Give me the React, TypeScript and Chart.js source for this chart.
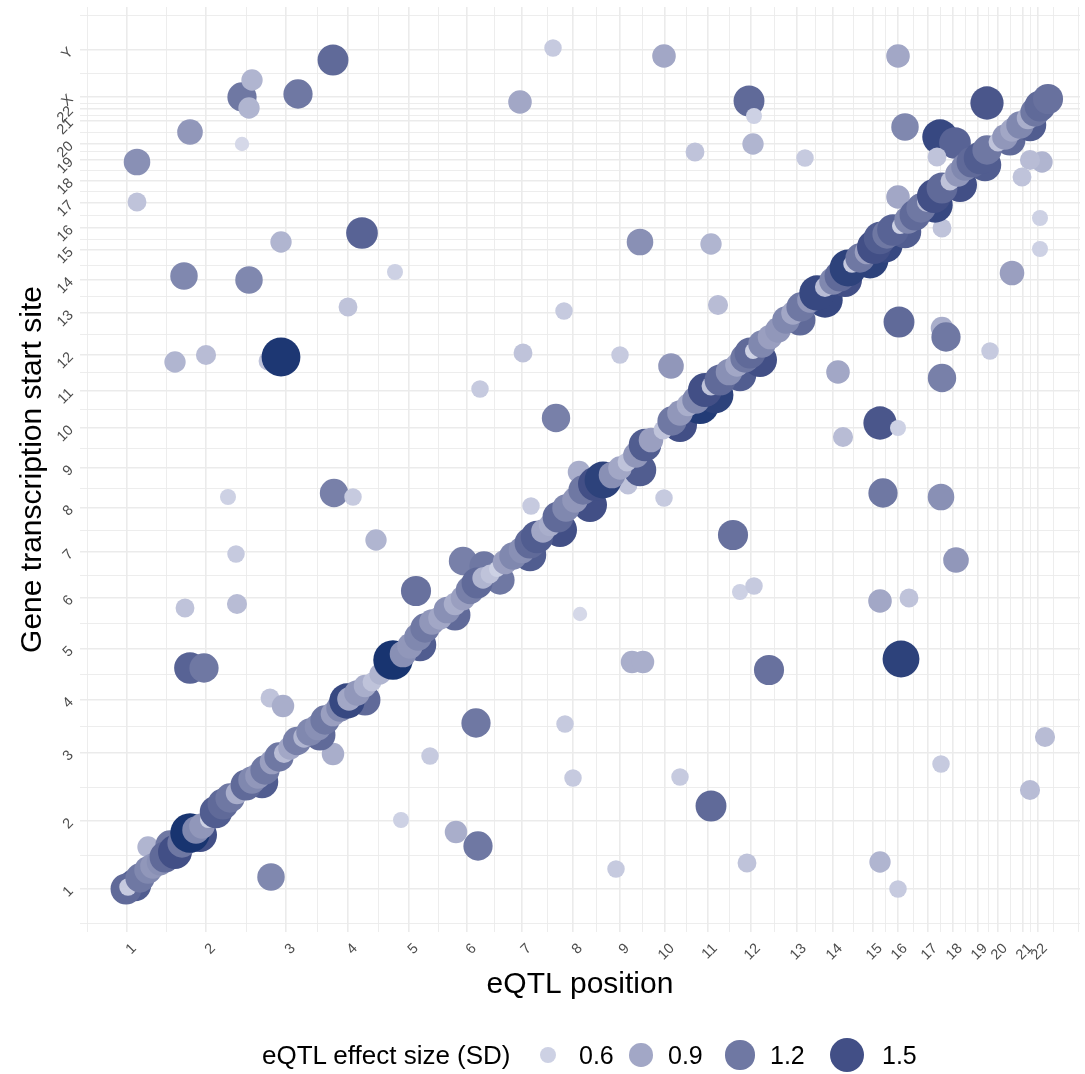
import React, { useEffect, useRef } from "react";
import { Chart, registerables } from "chart.js";

Chart.register(...registerables);

const FONT = "'Liberation Sans', Arial, Helvetica, sans-serif";

// Chromosome tick positions along the concatenated genome axes (plot units)
const chromLabelsX = ["1","2","3","4","5","6","7","8","9","10","11","12","13","14","15","16","17","18","19","20","21","22"];
const chromTicksX = [47,126,206,268,329,387,442,493,540,585,628,671,717,753,793,818,848,873,898,918,943,958];
const chromLabelsY = ["1","2","3","4","5","6","7","8","9","10","11","12","13","14","15","16","17","18","19","20","21","22","X","Y"];
const chromTicksY = [43,111,179,232,283,334,380,424,464,504,541,577,619,652,682,704,729,751,772,788,811,823,835,882];

// cis eQTLs (diagonal band)
const cisPos = [55,90,120,182,240,285,340,375,420,450,480,510,560,600,620,635,660,680,720,745,765,790,805,825,855,880,905,930,950,
  46,48,60,68,73,80,85,95,102,110,116,122,128,136,143,150,157,166,172,178,185,192,199,204,210,217,224,230,238,245,253,260,267,269,277,285,292,300,309,313,323,330,338,345,352,360,367,375,383,390,397,403,410,417,425,433,442,450,457,463,470,478,486,495,503,515,523,532,540,547,556,565,571,583,592,600,608,616,625,631,640,649,657,665,670,673,682,690,698,706,713,721,730,737,745,753,760,768,772,780,787,794,800,807,813,820,828,835,841,847,854,862,870,878,885,892,900,907,918,925,932,940,948,955,960,968];
const cisTss = [47,87,97,150,197,232,287,317,352,377,402,427,462,507,527,537,557,572,612,632,652,672,687,700,727,747,767,792,807,
  43,45,54,62,66,70,75,80,89,99,102,106,112,120,128,134,139,147,152,156,162,170,175,179,184,191,195,200,205,212,218,224,231,233,239,246,250,258,268,272,278,286,295,304,310,314,322,328,334,342,349,354,358,363,370,376,382,389,395,401,407,415,424,432,442,448,452,457,464,470,477,487,492,502,511,519,527,532,542,546,552,560,567,574,579,581,588,595,602,612,619,625,632,639,645,651,656,664,668,674,680,685,694,698,702,706,712,717,724,730,736,744,751,758,765,770,774,782,790,795,802,807,814,820,826,833];
const cisEffect = [1.4,1.2,1.5,1.4,1.3,1.3,1.4,1.3,1.2,1.4,1.5,1.5,1.4,1.5,1.8,1.7,1.4,1.5,1.3,1.6,1.5,1.7,1.6,1.4,1.6,1.5,1.4,1.3,1.4,
  1.3,0.65,1.2,1.1,1.0,1.05,1.3,1.5,1.2,1.9,1.1,1.0,0.6,1.4,1.3,1.2,0.85,1.3,1.1,1.0,1.2,0.95,1.2,0.75,0.9,1.15,0.8,1.1,1.05,1.2,0.95,1.1,1.6,0.9,1.0,0.85,0.7,0.8,1.2,1.9,1.05,1.0,1.1,1.2,1.0,0.9,1.05,0.85,0.95,1.15,1.3,0.8,0.7,0.6,0.95,1.1,1.05,1.3,1.4,0.9,0.85,1.3,1.1,1.0,1.2,1.5,1.7,1.05,0.9,0.7,1.0,1.4,0.95,0.7,1.2,1.0,0.85,1.1,1.5,0.7,1.3,1.05,0.9,1.2,1.3,0.6,1.1,0.95,1.0,1.1,0.9,1.2,1.0,1.6,0.75,1.1,1.3,1.7,0.65,1.2,0.95,1.5,1.4,1.2,1.35,0.6,1.1,1.3,1.2,0.75,1.5,1.3,0.7,1.0,1.1,1.3,1.4,1.2,0.7,1.0,0.9,1.1,0.85,1.2,1.3,1.25];

// trans eQTLs (off-diagonal)
const transPos = [57,57,110,162,172,169,162,218,253,473,440,584,669,674,673,615,725,818,907,825,860,875,962,950,942,960,960,932,857,818,862,201,282,104,169,315,268,95,126,188,201,484,638,560,631,443,540,591,400,476,499,451,548,584,336,383,404,296,500,552,563,105,157,110,124,190,203,253,321,191,68,156,148,254,273,350,376,398,396,485,493,536,600,631,653,660,674,667,689,758,819,862,866,862,910,800,818,763,803,861,876,800,829,821,861,800,818,950,965];
const transTss = [770,730,800,835,852,824,788,838,872,884,830,876,831,816,788,780,774,876,829,805,795,789,770,772,755,714,683,659,775,735,704,690,699,656,652,660,625,570,577,571,575,621,627,690,688,579,577,566,543,514,460,426,447,434,341,371,366,392,318,270,270,324,328,264,264,234,226,178,112,55,85,378,435,439,435,176,100,86,209,208,154,63,155,126,397,340,346,69,262,560,610,604,595,554,581,509,504,495,439,435,372,331,334,273,168,70,43,142,195];
const transEffect = [1.05,0.7,1.0,1.2,0.8,0.8,0.55,1.2,1.3,0.65,0.9,0.9,1.3,0.6,0.8,0.7,0.65,0.9,1.45,1.1,1.6,1.35,0.8,0.75,0.7,0.6,0.6,0.95,0.7,0.9,0.7,0.8,1.35,1.1,1.1,0.6,0.7,0.8,0.75,0.7,1.85,0.65,0.75,1.05,0.8,0.7,0.65,1.0,0.65,1.15,0.85,0.65,0.7,0.65,1.25,1.15,1.2,0.8,0.55,0.85,0.85,0.7,0.75,1.35,1.2,0.7,0.85,0.85,0.6,1.1,0.8,0.65,0.6,1.15,0.65,0.65,0.85,1.2,1.2,0.65,0.65,0.65,0.65,1.3,1.25,0.6,0.65,0.7,1.25,0.9,1.3,0.85,1.2,1.15,0.65,1.45,0.6,0.75,1.2,1.05,1.0,0.9,0.7,1.7,0.65,0.8,0.65,0.75,0.75];

const legendValues = [0.6, 0.9, 1.2, 1.5];

const colorStops: [number, number[]][] = [
  [0.5, [220, 223, 236]],
  [0.6, [205, 209, 228]],
  [0.9, [162, 167, 198]],
  [1.2, [111, 120, 163]],
  [1.5, [66, 79, 134]],
  [1.9, [24, 52, 112]],
];

function effectColor(e: number): string {
  if (e <= colorStops[0][0]) return `rgb(${colorStops[0][1].join(",")})`;
  for (let i = 1; i < colorStops.length; i++) {
    const [v1, c1] = colorStops[i];
    const [v0, c0] = colorStops[i - 1];
    if (e <= v1) {
      const t = (e - v0) / (v1 - v0);
      const c = c0.map((a, k) => Math.round(a + (c1[k] - a) * t));
      return `rgb(${c.join(",")})`;
    }
  }
  return `rgb(${colorStops[colorStops.length - 1][1].join(",")})`;
}

function effectRadius(e: number): number {
  return Math.sqrt(Math.max(250 * e - 86, 20));
}

function midpoints(arr: number[]): number[] {
  const out: number[] = [];
  for (let i = 1; i < arr.length; i++) out.push((arr[i - 1] + arr[i]) / 2);
  return out;
}

const legendCenters = [548, 641, 740, 847];
const legendLabelLeft = [579, 668, 770, 882];

export default function App() {
  const ref = useRef<HTMLCanvasElement>(null);

  useEffect(() => {
    if (!ref.current) return;
    const xMinor = [7, ...midpoints(chromTicksX), 973, 998];
    const yMinor = [9, ...midpoints(chromTicksY), 917];
    const xAll = [...chromTicksX, ...xMinor].sort((a, b) => a - b);
    const yAll = [...chromTicksY, ...yMinor].sort((a, b) => a - b);
    const xLabel = new Map<number, string>();
    chromTicksX.forEach((v, i) => xLabel.set(v, chromLabelsX[i]));
    const yLabel = new Map<number, string>();
    chromTicksY.forEach((v, i) => yLabel.set(v, chromLabelsY[i]));

    const gridWidth = (map: Map<number, string>) => (ctx: any) =>
      ctx.tick && map.has(ctx.tick.value) ? 1.6 : 0.9;

    const zeroPad = (s: any) => {
      s.paddingLeft = 0;
      s.paddingRight = 0;
      s.paddingTop = 0;
      s.paddingBottom = 0;
    };

    const chart = new Chart(ref.current, {
      type: "scatter",
      data: {
        datasets: [
          {
            label: "cis",
            data: cisPos.map((x, i) => ({ x, y: cisTss[i] })),
            pointRadius: cisEffect.map(effectRadius),
            pointHoverRadius: cisEffect.map(effectRadius),
            backgroundColor: cisEffect.map(effectColor),
            borderWidth: 0,
          },
          {
            label: "trans",
            data: transPos.map((x, i) => ({ x, y: transTss[i] })),
            pointRadius: transEffect.map(effectRadius),
            pointHoverRadius: transEffect.map(effectRadius),
            backgroundColor: transEffect.map(effectColor),
            borderWidth: 0,
          },
        ],
      },
      options: {
        responsive: false,
        animation: false,
        devicePixelRatio: 1,
        events: [],
        layout: { autoPadding: false, padding: { top: 7, right: 5, left: 0, bottom: 0 } },
        plugins: { legend: { display: false }, tooltip: { enabled: false } },
        scales: {
          x: {
            type: "linear",
            min: 0,
            max: 1000,
            afterBuildTicks: (s: any) => {
              s.ticks = xAll.map((v) => ({ value: v }));
            },
            afterFit: (s: any) => {
              s.height = 142;
              zeroPad(s);
            },
            border: { display: false },
            grid: {
              color: "#ebebeb",
              lineWidth: gridWidth(xLabel),
              drawTicks: false,
            },
            ticks: {
              autoSkip: false,
              minRotation: 45,
              maxRotation: 45,
              padding: 8,
              labelOffset: 7,
              color: "#4d4d4d",
              font: { family: FONT, size: 14.5 },
              callback: (v: any) => xLabel.get(Number(v)) ?? "",
            },
            title: {
              display: true,
              text: "eQTL position",
              color: "#000",
              font: { family: FONT, size: 30 },
              padding: { top: 0, bottom: 71 },
            },
          },
          y: {
            type: "linear",
            min: 0,
            max: 925,
            afterBuildTicks: (s: any) => {
              s.ticks = yAll.map((v) => ({ value: v }));
            },
            afterFit: (s: any) => {
              s.width = 80;
              zeroPad(s);
            },
            border: { display: false },
            grid: {
              color: "#ebebeb",
              lineWidth: gridWidth(yLabel),
              drawTicks: false,
            },
            ticks: {
              autoSkip: false,
              minRotation: 45,
              maxRotation: 45,
              padding: 9,
              color: "#4d4d4d",
              font: { family: FONT, size: 14.5 },
              callback: (v: any) => yLabel.get(Number(v)) ?? "",
            },
            title: {
              display: true,
              text: "Gene transcription start site",
              color: "#000",
              font: { family: FONT, size: 30 },
              padding: { top: 15, bottom: 0 },
            },
          },
        },
      },
    });
    return () => chart.destroy();
  }, []);

  return (
    <div style={{ position: "absolute", left: 0, top: 0, width: 1085, height: 1074, background: "#fff", overflow: "hidden" }}>
      <canvas ref={ref} width={1085} height={1074} style={{ position: "absolute", left: 0, top: 0, width: 1085, height: 1074 }} />
      <div style={{ position: "absolute", left: 262, top: 1040, height: 30, lineHeight: "30px", fontFamily: FONT, fontSize: 26, color: "#000", whiteSpace: "nowrap" }}>
        eQTL effect size (SD)
      </div>
      {legendValues.map((v, i) => {
        const r = effectRadius(v);
        return (
          <React.Fragment key={v}>
            <div
              style={{
                position: "absolute",
                left: legendCenters[i] - r,
                top: 1055 - r,
                width: 2 * r,
                height: 2 * r,
                borderRadius: "50%",
                background: effectColor(v),
              }}
            />
            <div style={{ position: "absolute", left: legendLabelLeft[i], top: 1040, height: 30, lineHeight: "30px", fontFamily: FONT, fontSize: 25, color: "#000", whiteSpace: "nowrap" }}>
              {v.toFixed(1)}
            </div>
          </React.Fragment>
        );
      })}
    </div>
  );
}
